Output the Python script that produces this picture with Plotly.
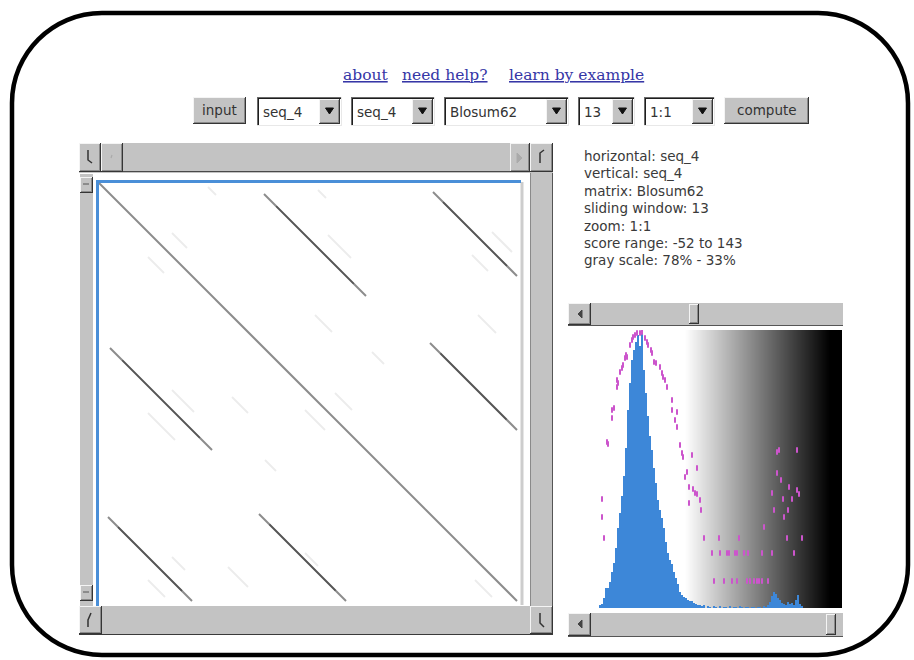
import plotly.graph_objects as go
import numpy as np

W, H = 914, 660

# ---------------- data ----------------
links = ["about", "need help?", "learn by example"]
button_labels = ["input", "compute"]
control_values = ["seq_4", "seq_4", "Blosum62", "13", "1:1"]
info_lines = ["horizontal: seq_4", "vertical: seq_4", "matrix: Blosum62",
              "sliding window: 13", "zoom: 1:1", "score range: -52 to 143",
              "gray scale: 78% - 33%"]

seq_len = 422
# strong matches (residue start on x, residue start on y, length); off-diagonal ones are mirrored
rep_x0 = [1, 12, 10, 161]
rep_y0 = [1, 166, 335, 332]
rep_len = [418, 102, 84, 87]
# faint matches
faint_x0 = [74, 50, 230, 394, 374, 217, 274, 380, 50, 74, 134, 167, 50, 74, 130, 207, 237, 207, 377, 110, 220]
faint_y0 = [51, 75, 53, 50, 73, 133, 170, 133, 231, 208, 215, 278, 398, 375, 385, 228, 211, 371, 398, 5, 8]
faint_len = [15, 16, 23, 20, 16, 17, 12, 18, 27, 22, 16, 11, 17, 13, 20, 20, 17, 13, 17, 8, 8]

# score histogram (bins of 2 starting at score -52)
hist_start = -52
hist_counts = [3, 4, 10, 20, 20, 26, 36, 45, 60, 80,
               95, 112, 132, 160, 198, 225, 248, 258, 266, 273,
               262, 276, 238, 215, 192, 172, 158, 140, 125, 108,
               98, 90, 80, 66, 55, 48, 44, 36, 30, 24,
               16, 13, 11, 10, 8, 7, 7, 5, 4, 3,
               3, 2, 3, 0, 2, 1, 0, 2, 1, 0,
               2, 0, 1, 1, 0, 2, 0, 1, 1, 0,
               2, 1, 0, 1, 1, 0, 1, 1, 0, 1,
               1, 0, 2, 1, 3, 6, 12, 16, 14, 10,
               8, 5, 4, 3, 6, 4, 5, 3, 8, 13,
               4, 2]
hist_scores = [hist_start + 2 * i for i in range(len(hist_counts))]

# log-scaled counts (magenta dots)
log_scores = [-50, -50, -48, -45, -44, -40, -40, -38, -35, -35, -34, -32, -30, -29,
              -27, -26, -25, -22, -20, -19, -17, -15, -12, -10, -7, -5, -4,
              -1, 0, 2, 4, 8, 10, 11, 13, 15, 20, 20, 25, 23, 25,
              28, 30, 31, 40, 35, 33, 45, 37, 41, 43, 45, 37, 48, 49,
              52, 67, 87, 112,
              60, 68, 75, 77, 83, 85, 92, 96, 110, 120, 142,
              62, 72, 80, 85, 95, 98, 102, 105, 107, 110, 116,
              125, 127, 145, 125, 129, 120, 137, 145, 147, 131, 140, 122, 136, 132, 150, 135]
log_values = [109, 91, 70, 166, 164, 190, 198, 200, 221, 228, 225, 236, 240, 243,
              250, 253, 251, 263, 268, 271, 273, 275, 275, 276, 270, 266, 263,
              258, 255, 246, 245, 241, 235, 231, 228, 221, 208, 198, 196, 188, 181,
              163, 155, 151, 153, 136, 131, 140, 121, 119, 115, 114, 105, 108, 98,
              70, 70, 70, 81,
              55, 55, 55, 55, 55, 55, 55, 55, 55, 55, 55,
              27, 27, 27, 27, 27, 27, 27, 27, 27, 27, 27,
              156, 158, 158, 135, 128, 115, 121, 118, 114, 109, 109, 98, 98, 91, 70, 70]
gray_from, gray_to = 33, 178

# ---------------- helpers ----------------
shapes, annots = [], []
SANS = "DejaVu Sans, Verdana, sans-serif"
SERIF = "DejaVu Serif, Liberation Serif, serif"


def X(x):
    return x / W


def Y(y):
    return 1 - y / H


def rect(x0, y0, x1, y1, fill):
    shapes.append(dict(type="rect", xref="paper", yref="paper", x0=X(x0), x1=X(x1),
                       y0=Y(y1), y1=Y(y0), fillcolor=fill, line=dict(width=0)))


def hline(x0, x1, y, color, w=1):
    shapes.append(dict(type="line", xref="paper", yref="paper", x0=X(x0), x1=X(x1),
                       y0=Y(y), y1=Y(y), line=dict(color=color, width=w)))


def vline(x, y0, y1, color, w=1):
    shapes.append(dict(type="line", xref="paper", yref="paper", x0=X(x), x1=X(x),
                       y0=Y(y0), y1=Y(y1), line=dict(color=color, width=w)))


def path(pts, color, w=1, fill=None, close=False):
    d = "M " + " L ".join(f"{X(a):.5f},{Y(b):.5f}" for a, b in pts)
    if close:
        d += " Z"
    shapes.append(dict(type="path", xref="paper", yref="paper", path=d,
                       fillcolor=fill if fill else "rgba(0,0,0,0)",
                       line=dict(color=color, width=w)))


GRAY = "#c3c3c3"


def raised(x0, y0, x1, y1, fill=GRAY):
    rect(x0, y0, x1, y1, fill)
    hline(x0, x1, y0 + 0.5, "#f4f4f4")
    vline(x0 + 0.5, y0, y1, "#f4f4f4")
    hline(x0, x1, y1 - 0.5, "#353535")
    vline(x1 - 0.5, y0, y1, "#353535")
    hline(x0 + 1, x1 - 1, y1 - 1.5, "#8a8a8a")
    vline(x1 - 1.5, y0 + 1, y1 - 1, "#8a8a8a")


def sunken(x0, y0, x1, y1, fill="white"):
    rect(x0, y0, x1, y1, fill)
    hline(x0, x1, y0 + 0.5, "#6a6a6a")
    vline(x0 + 0.5, y0, y1, "#6a6a6a")
    hline(x0 + 1, x1 - 1, y0 + 1.5, "#1e1e1e")
    vline(x0 + 1.5, y0 + 1, y1 - 1, "#1e1e1e")
    hline(x0, x1, y1 - 0.5, "#e8e8e8")
    vline(x1 - 0.5, y0, y1, "#e8e8e8")


def text(x, y, s, size=13, color="#333333", family=SANS, xanchor="left"):
    annots.append(dict(x=X(x), y=Y(y), xref="paper", yref="paper", text=s, showarrow=False,
                       xanchor=xanchor, yanchor="middle", borderpad=0,
                       font=dict(size=size, color=color, family=family)))


# ---------------- outer rounded frame ----------------
L, T, R, B, r = 12, 13, 908, 655, 90
k = 0.5523 * r
pts = [("M", [(L, T + r)]),
       ("C", [(L, T + r - k), (L + r - k, T), (L + r, T)]),
       ("L", [(R - r, T)]),
       ("C", [(R - r + k, T), (R, T + r - k), (R, T + r)]),
       ("L", [(R, B - r)]),
       ("C", [(R, B - r + k), (R - r + k, B), (R - r, B)]),
       ("L", [(L + r, B)]),
       ("C", [(L + r - k, B), (L, B - r + k), (L, B - r)])]
d = " ".join(c + " " + " ".join(f"{X(a):.5f},{Y(b):.5f}" for a, b in p) for c, p in pts) + " Z"
shapes.append(dict(type="path", xref="paper", yref="paper", path=d,
                   line=dict(color="black", width=4.5), fillcolor="rgba(0,0,0,0)"))

# ---------------- links ----------------
for label, cx in zip(links, [365.5, 445, 576.5]):
    text(cx, 75, f"<u>{label}</u>", size=15.5, color="#3636a6", family=SERIF, xanchor="center")

# ---------------- control row ----------------
raised(193, 97, 246, 124)
text(219.5, 110, button_labels[0], size=13.5, xanchor="center")
raised(724, 97, 809, 124)
text(766.5, 110, button_labels[1], size=13.5, xanchor="center")

dd_ranges = [(257, 342), (351, 435), (444, 569), (578, 635), (644, 715)]
for (x0, x1), val in zip(dd_ranges, control_values):
    sunken(x0, 97, x1, 126)
    raised(x1 - 23, 99, x1 - 2, 124)
    cx = x1 - 12.5
    path([(cx - 4, 108), (cx + 4, 108), (cx, 114)], "#111111", 1, fill="#111111", close=True)
    text(x0 + 5, 111.5, val, size=13.5)

# ---------------- dot plot panel chrome ----------------
rect(79, 143, 553, 173, GRAY)
raised(79, 143, 101, 172)
raised(101, 143, 123, 172)
hline(123, 510, 171.5, "#4a4a4a")
raised(510, 143, 530, 172)
raised(530, 143, 553, 172)
path([(88, 150), (88, 160), (92, 163)], "#333333", 1.5)
path([(112, 155), (111, 158)], "#aaaaaa", 1.2)
path([(517, 153), (517, 163), (522, 158)], "#aaaaaa", 1, fill="#aaaaaa", close=True)
path([(540, 163), (540, 153), (544, 150)], "#333333", 1.5)
rect(80, 174, 93, 606, GRAY)
raised(80, 177, 93, 193)
raised(80, 585, 93, 601)
hline(83, 89, 184, "#555555")
hline(83, 89, 592, "#555555")
rect(530, 173, 553, 606, GRAY)
vline(530.5, 173, 606, "#8a8a8a")
vline(552.5, 173, 606, "#555555")
rect(79, 606, 553, 635, GRAY)
raised(79, 606, 102, 634)
raised(530, 606, 553, 634)
hline(79, 553, 634.5, "#3a3a3a")
path([(91, 613), (88, 620), (88, 627)], "#333333", 1.5)
path([(540, 613), (540, 623), (544, 627)], "#333333", 1.5)
vline(522, 182, 605, "#cdcdcd", 3)
vline(97.5, 180, 606, "#4a8fd8", 3)
hline(96, 521, 181.5, "#4a8fd8", 3)

# ---------------- info text ----------------
for i, s in enumerate(info_lines):
    text(583, 156 + 17.4 * i, s, size=13.5, color="#3a3a3a")

# ---------------- histogram panel chrome ----------------
rect(568, 303, 843, 326, GRAY)
raised(568, 303, 591, 325)
hline(568, 843, 325.5, "#555555")
raised(689, 304, 699, 324)
path([(582, 310), (578, 314), (582, 318)], "#444444", 1, fill="#444444", close=True)

rect(568, 613, 843, 637, GRAY)
raised(568, 613, 591, 636)
hline(568, 843, 636.5, "#555555")
raised(826, 614, 836, 635)
path([(582, 620), (578, 624), (582, 628)], "#444444", 1, fill="#444444", close=True)

# ---------------- traces ----------------
fig = go.Figure()

fx, fy = [], []
for x0, y0, n in zip(faint_x0, faint_y0, faint_len):
    fx += [x0, x0 + n, None]
    fy += [y0, y0 + n, None]
fig.add_trace(go.Scatter(x=fx, y=fy, mode="lines", line=dict(color="#ececec", width=2),
                         hoverinfo="skip", xaxis="x", yaxis="y"))

sx, sy, dx, dy = [], [], [], []
for x0, y0, n in zip(rep_x0, rep_y0, rep_len):
    pairs = [(x0, y0)] if x0 == y0 else [(x0, y0), (y0, x0)]
    for a, b in pairs:
        sx += [a, a + n, None]
        sy += [b, b + n, None]
        if x0 != y0:
            dx += [a + 0.12 * n, a + 0.88 * n, None]
            dy += [b + 0.12 * n, b + 0.88 * n, None]
fig.add_trace(go.Scatter(x=sx, y=sy, mode="lines", line=dict(color="#8c8c8c", width=2),
                         hoverinfo="skip", xaxis="x", yaxis="y"))
fig.add_trace(go.Scatter(x=dx, y=dy, mode="lines", line=dict(color="#555555", width=1.6),
                         hoverinfo="skip", xaxis="x", yaxis="y"))

edges = list(range(gray_from, 191))
centers = [e + 0.5 for e in edges[:-1]]
shade = [min(1.0, max(0.0, (c - gray_from) / (gray_to - gray_from))) for c in centers]
fig.add_trace(go.Heatmap(x=edges, y=[0, 278], z=[shade], zmin=0, zmax=1,
                         colorscale=[[0, "white"], [1, "black"]], showscale=False,
                         hoverinfo="skip", xaxis="x2", yaxis="y2"))

fig.add_trace(go.Bar(x=hist_scores, y=hist_counts, width=1.4,
                     marker=dict(color="#3d87d8", line=dict(width=0)),
                     hoverinfo="skip", xaxis="x2", yaxis="y2"))

fig.add_trace(go.Scatter(x=log_scores, y=log_values, mode="markers",
                         marker=dict(symbol="line-ns", size=4,
                                     line=dict(width=2, color="#cc55cc")),
                         hoverinfo="skip", xaxis="x2", yaxis="y3"))

ax = dict(visible=False, showgrid=False, zeroline=False, fixedrange=True)
fig.update_layout(
    width=W, height=H, autosize=False,
    margin=dict(l=0, r=0, t=0, b=0),
    paper_bgcolor="white", plot_bgcolor="rgba(0,0,0,0)",
    showlegend=False, bargap=0,
    xaxis=dict(ax, domain=[X(98), X(520)], range=[0, seq_len]),
    yaxis=dict(ax, domain=[Y(604), Y(182)], range=[seq_len, 0]),
    xaxis2=dict(ax, domain=[X(568), X(842)], range=[-84, 190]),
    yaxis2=dict(ax, domain=[Y(608), Y(330)], range=[0, 278]),
    yaxis3=dict(ax, overlaying="y2", range=[0, 278]),
    shapes=shapes, annotations=annots,
)

fig.write_html("out.html", config={"displayModeBar": False},
               post_script="document.body.style.margin='0';document.body.style.overflow='hidden';")
